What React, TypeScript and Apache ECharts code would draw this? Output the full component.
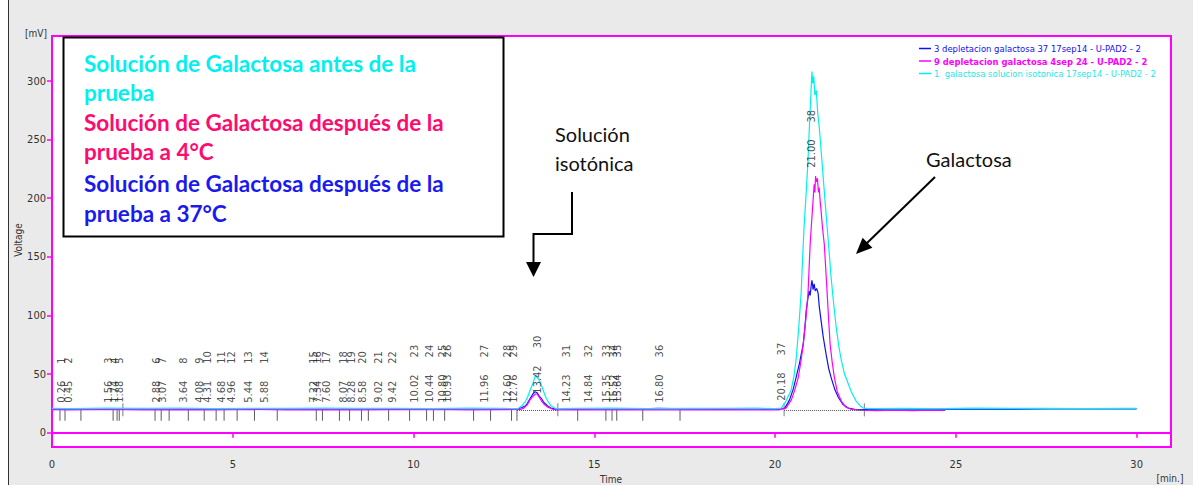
import React, { useEffect, useRef } from "react";
import * as echarts from "echarts";

// ---------- data ----------
const seriesNames = [
  "3 depletacion galactosa 37 17sep14 - U-PAD2 - 2",
  "9 depletacion galactosa 4sep 24 - U-PAD2 - 2",
  "1  galactosa solucion isotonica 17sep14 - U-PAD2 - 2",
];

const blueTrace: [number, number][] = [
  [0, 20.3], [0.5, 20.1], [1.5, 20.5], [2.5, 20.2], [3.5, 20.4], [4.5, 20.1], [5.5, 20.5],
  [6.5, 20.2], [7.5, 20.6], [8.5, 20.3], [9.5, 20.2], [10.5, 20.5], [11.5, 20.3], [12.5, 20.4],
  [12.9, 20.5], [13.0, 21.5], [13.1, 23], [13.15, 25], [13.22, 29], [13.3, 33], [13.36, 35],
  [13.42, 34], [13.48, 31], [13.54, 29], [13.6, 26], [13.7, 23], [13.8, 21], [13.9, 20.4],
  [14.2, 20.3], [15, 20.5], [16, 20.2], [16.8, 20.8], [17.5, 20.3], [18.5, 20.4], [19.5, 20.2],
  [20.1, 20], [20.27, 21], [20.4, 28], [20.5, 37], [20.58, 47], [20.68, 60], [20.78, 76],
  [20.83, 92], [20.86, 104], [20.9, 113], [20.94, 121], [20.97, 117], [21.0, 126], [21.02, 130],
  [21.05, 122], [21.08, 127], [21.11, 121], [21.15, 123], [21.19, 119], [21.22, 108], [21.27, 96],
  [21.33, 82], [21.41, 67], [21.48, 55], [21.55, 47], [21.65, 37], [21.75, 30], [21.88, 24],
  [22.02, 21], [22.2, 20], [22.5, 19.8], [23.5, 20.2], [24.5, 20.0], [25.5, 20.3], [26.5, 20.1],
  [27.5, 20.4], [28.5, 20.2], [29.5, 20.3], [30, 20.2],
];

const magentaTrace: [number, number][] = [
  [0, 19.6], [0.5, 19.4], [1.5, 19.8], [2.5, 19.5], [3.5, 19.7], [4.5, 19.4], [5.5, 19.8],
  [6.5, 19.5], [7.5, 19.7], [8.5, 19.4], [9.5, 19.6], [10.5, 19.8], [11.5, 19.5], [12.5, 19.7],
  [12.95, 19.8], [13.05, 21], [13.15, 24], [13.22, 28], [13.3, 31], [13.37, 33], [13.42, 33],
  [13.48, 30], [13.54, 27], [13.62, 24], [13.7, 22], [13.85, 20], [13.95, 19.5],
  [14.5, 19.6], [15.5, 19.4], [16.5, 19.7], [17.5, 19.5], [18.5, 19.7], [19.5, 19.4],
  [20.1, 19.5], [20.3, 21], [20.45, 28], [20.55, 37], [20.64, 47], [20.72, 62], [20.78, 76],
  [20.85, 97], [20.91, 119], [20.94, 140], [20.97, 161], [21.01, 180], [21.05, 198], [21.08, 212],
  [21.1, 205], [21.12, 219], [21.14, 214], [21.17, 217], [21.2, 205], [21.22, 209], [21.25, 196],
  [21.27, 190], [21.31, 175], [21.36, 161], [21.4, 140], [21.44, 119], [21.48, 97], [21.52, 76],
  [21.58, 60], [21.64, 47], [21.72, 35], [21.83, 27], [21.95, 22], [22.1, 20], [22.3, 19.2],
  [22.8, 18.9], [23.3, 19.3], [23.8, 18.8], [24.3, 19.2], [24.7, 19.0],
];

const cyanTrace: [number, number][] = [
  [0, 20.8], [0.5, 20.6], [1.5, 20.9], [2.5, 20.7], [3.5, 20.9], [4.5, 20.6], [5.5, 20.8],
  [6.5, 20.7], [7.5, 21.0], [8.5, 20.7], [9.5, 20.8], [10.5, 20.6], [11.5, 20.9], [12.5, 20.7],
  [12.8, 20.6], [12.9, 20.8], [13.0, 23], [13.1, 27], [13.15, 30], [13.22, 36], [13.3, 42],
  [13.35, 47], [13.38, 49], [13.42, 47], [13.47, 45], [13.52, 42], [13.6, 35], [13.66, 30],
  [13.73, 26], [13.8, 23], [13.9, 21], [13.99, 20.5], [14.5, 20.7], [15.5, 20.9], [16.5, 20.6],
  [17.5, 20.8], [18.5, 20.7], [19.5, 20.9], [20.0, 20.6], [20.17, 21], [20.3, 27], [20.44, 36],
  [20.52, 48], [20.58, 62], [20.65, 88], [20.72, 119], [20.76, 148], [20.8, 175], [20.86, 205],
  [20.91, 232], [20.94, 255], [20.97, 275], [21.0, 296], [21.02, 308], [21.04, 298], [21.07, 304],
  [21.1, 288], [21.14, 292], [21.18, 272], [21.22, 261], [21.27, 242], [21.33, 218], [21.38, 198],
  [21.44, 175], [21.5, 152], [21.55, 132], [21.62, 110], [21.69, 90], [21.76, 74], [21.83, 62],
  [21.92, 50], [22.02, 42], [22.12, 34], [22.24, 27], [22.35, 23], [22.44, 21], [22.6, 20.6],
  [23.5, 20.8], [24.5, 20.6], [25.5, 20.9], [26.5, 20.7], [27.5, 20.8], [28.5, 20.6], [29.5, 20.8],
  [30, 20.7],
];

const peakNumbers = [
  1, 2, 3, 4, 5, 6, 7, 8, 9, 10, 11, 12, 13, 14, 15, 16, 17, 18, 19, 20,
  21, 22, 23, 24, 25, 26, 27, 28, 29, 30, 31, 32, 33, 34, 35, 36, 37, 38,
];
const peakTimes = [
  0.26, 0.45, 1.56, 1.74, 1.88, 2.88, 3.07, 3.64, 4.08, 4.31, 4.68, 4.96, 5.44, 5.88, 7.22, 7.34,
  7.6, 8.07, 8.28, 8.58, 9.02, 9.42, 10.02, 10.44, 10.8, 10.93, 11.96, 12.6, 12.76, 13.42, 14.23,
  14.84, 15.35, 15.52, 15.64, 16.8, 20.18, 21.0,
];
// level (mV) where each peak's label starts
const peakLabelLevels = [
  25.6, 25.6, 25.6, 25.6, 25.6, 25.6, 25.6, 25.6, 25.6, 25.6, 25.6, 25.6, 25.6, 25.6, 25.6, 25.6,
  25.6, 25.6, 25.6, 25.6, 25.6, 25.6, 25.6, 25.6, 25.6, 25.6, 25.6, 25.6, 25.6, 33.3, 25.6,
  25.6, 25.6, 25.6, 25.6, 25.6, 27.3, 226,
];

const integrationMarks = [
  0.22, 0.36, 0.8, 1.69, 1.8, 1.86, 2.85, 3.02, 3.24, 3.77, 4.21, 4.54, 4.76, 5.12, 5.6, 6.23,
  7.31, 7.48, 7.95, 8.23, 8.56, 8.75, 9.31, 9.89, 10.36, 10.55, 10.86, 11.66, 12.13, 12.71, 12.86,
  14.54, 15.32, 15.49, 15.62, 16.34, 17.37,
];
const peakBounds = [1.96, 13.99, 20.25, 22.47];
const baselineLevel = 19.5;
const baselineSegments: [number, number][] = [
  [12.86, 13.99],
  [20.25, 22.47],
];

const xTicks = [0, 5, 10, 15, 20, 25, 30];
const yTicks = [0, 50, 100, 150, 200, 250, 300];

const BLUE = "#1010f0";
const MAGENTA = "#ff00ff";
const CYAN = "#00f0f0";
const AXIS_FONT = "'DejaVu Sans Condensed', 'Liberation Sans', sans-serif";
const NOTE_FONT = "Lato, 'Open Sans', sans-serif";

export default function App() {
  const ref = useRef<HTMLDivElement>(null);

  useEffect(() => {
    if (!ref.current) return;
    const chart = echarts.init(ref.current, undefined, { renderer: "svg" });

    const noteLines = [
      { text: "Solución de Galactosa antes de la", color: CYAN, y: 63 },
      { text: "prueba", color: CYAN, y: 92 },
      { text: "Solución de Galactosa después de la", color: "#ff0a6e", y: 122 },
      { text: "prueba a 4°C", color: "#ff0a6e", y: 151 },
      { text: "Solución de Galactosa después de la", color: "#1a1af0", y: 183 },
      { text: "prueba a 37°C", color: "#1a1af0", y: 213 },
    ];

    const option: any = {
      animation: false,
      backgroundColor: "#eaeaea",
      textStyle: { fontFamily: AXIS_FONT },
      grid: {
        left: 52,
        right: 22,
        top: 36,
        bottom: 38,
        show: true,
        backgroundColor: "#ffffff",
        borderColor: MAGENTA,
        borderWidth: 2,
      },
      legend: {
        orient: "vertical",
        left: 914,
        top: 39,
        itemWidth: 12,
        itemHeight: 1.5,
        itemGap: 3.5,
        icon: "rect",
        textStyle: { fontSize: 9.4, fontFamily: AXIS_FONT, padding: [0, 0, 0, -2] },
        data: [
          { name: seriesNames[0], textStyle: { color: BLUE } },
          { name: seriesNames[1], textStyle: { color: MAGENTA, fontWeight: "bold" } },
          { name: seriesNames[2], textStyle: { color: "#22e8e8" } },
        ],
      },
      xAxis: {
        type: "value",
        min: 0,
        max: 30.95,
        splitLine: { show: false },
        axisLine: { lineStyle: { color: MAGENTA, width: 2 } },
        axisTick: { show: true, length: 5, lineStyle: { color: MAGENTA, width: 1.5 }, customValues: xTicks },
        axisLabel: { color: "#333", fontSize: 11, margin: 12, customValues: xTicks, fontFamily: AXIS_FONT },
      },
      yAxis: {
        type: "value",
        min: -12.2,
        max: 338.4,
        splitLine: { show: false },
        axisLine: { show: true, lineStyle: { color: MAGENTA, width: 2 } },
        axisTick: { show: true, length: 5, lineStyle: { color: MAGENTA, width: 1.5 }, customValues: yTicks },
        axisLabel: { color: "#333", fontSize: 11, margin: 6, customValues: yTicks, fontFamily: AXIS_FONT },
      },
      series: [
        {
          name: seriesNames[0],
          type: "line",
          data: blueTrace,
          showSymbol: false,
          color: BLUE,
          lineStyle: { width: 1.2, color: BLUE },
          z: 3,
          silent: true,
        },
        {
          name: seriesNames[1],
          type: "line",
          data: magentaTrace,
          showSymbol: false,
          color: MAGENTA,
          lineStyle: { width: 1.2, color: MAGENTA },
          z: 3,
          silent: true,
        },
        {
          name: seriesNames[2],
          type: "line",
          data: cyanTrace,
          showSymbol: false,
          color: CYAN,
          lineStyle: { width: 1.2, color: CYAN },
          z: 4,
          silent: true,
        },
        {
          name: "marks",
          type: "scatter",
          data: integrationMarks.map((t) => [t, baselineLevel]),
          symbol: "rect",
          symbolSize: [1, 11],
          symbolOffset: [0, 5.5],
          itemStyle: { color: "#333" },
          silent: true,
          z: 2,
        },
        {
          name: "bounds",
          type: "scatter",
          data: peakBounds.map((t) => [t, baselineLevel]),
          symbol: "rect",
          symbolSize: [1.2, 13],
          itemStyle: { color: "#777" },
          silent: true,
          z: 2,
          markLine: {
            silent: true,
            symbol: ["none", "none"],
            label: { show: false },
            lineStyle: { type: "dotted", color: "#555", width: 1 },
            data: baselineSegments.map(([a, b]) => [
              { coord: [a, baselineLevel] },
              { coord: [b, baselineLevel] },
            ]),
          },
        },
        {
          name: "peakLabels",
          type: "scatter",
          data: peakTimes.map((t, i) => [t, peakLabelLevels[i]]),
          symbolSize: 1,
          itemStyle: { color: "rgba(0,0,0,0)" },
          silent: true,
          z: 6,
          label: {
            show: true,
            position: "inside",
            rotate: 90,
            align: "left",
            verticalAlign: "middle",
            color: "#222",
            fontSize: 11,
            fontFamily: AXIS_FONT,
            formatter: (p: any) =>
              `{t|${peakTimes[p.dataIndex].toFixed(2)}}{g|}{n|${peakNumbers[p.dataIndex]}}`,
            rich: {
              t: { fontSize: 11, color: "#222", fontFamily: AXIS_FONT },
              g: { width: 17 },
              n: { fontSize: 11, color: "#222", fontFamily: AXIS_FONT },
            },
          },
          labelLayout: { hideOverlap: false },
        },
      ],
      graphic: [
        { type: "rect", shape: { x: 0, y: 0, width: 8, height: 485 }, style: { fill: "#ffffff" }, silent: true },
        { type: "line", shape: { x1: 8.5, y1: 0, x2: 8.5, y2: 485 }, style: { stroke: "#333", lineWidth: 1 }, silent: true },
        {
          type: "text",
          x: 36,
          y: 33,
          style: { text: "[mV]", font: `10px ${AXIS_FONT}`, fill: "#333", textAlign: "center", textVerticalAlign: "middle" },
        },
        {
          type: "text",
          x: 18,
          y: 240,
          rotation: Math.PI / 2,
          style: { text: "Voltage", font: `10px ${AXIS_FONT}`, fill: "#333", textAlign: "center", textVerticalAlign: "middle" },
        },
        {
          type: "text",
          x: 1170,
          y: 478,
          style: { text: "[min.]", font: `10px ${AXIS_FONT}`, fill: "#333", textAlign: "center", textVerticalAlign: "middle" },
        },
        {
          type: "text",
          x: 611,
          y: 479,
          style: { text: "Time", font: `10px ${AXIS_FONT}`, fill: "#333", textAlign: "center", textVerticalAlign: "middle" },
        },
        // annotation box
        {
          type: "rect",
          z: 100,
          shape: { x: 63.5, y: 37.5, width: 440, height: 199 },
          style: { fill: "#ffffff", stroke: "#000", lineWidth: 2 },
          silent: true,
        },
        ...noteLines.map((l) => ({
          type: "text",
          z: 101,
          x: 84,
          y: l.y,
          style: {
            text: l.text,
            font: `bold 22.5px ${NOTE_FONT}`,
            fill: l.color,
            textAlign: "left",
            textVerticalAlign: "middle",
          },
        })),
        {
          type: "text",
          z: 101,
          x: 555,
          y: 134,
          style: { text: "Solución", font: `20px ${NOTE_FONT}`, fill: "#111", textAlign: "left", textVerticalAlign: "middle" },
        },
        {
          type: "text",
          z: 101,
          x: 555,
          y: 163,
          style: { text: "isotónica", font: `20px ${NOTE_FONT}`, fill: "#111", textAlign: "left", textVerticalAlign: "middle" },
        },
        {
          type: "text",
          z: 101,
          x: 926,
          y: 159,
          style: { text: "Galactosa", font: `20px ${NOTE_FONT}`, fill: "#111", textAlign: "left", textVerticalAlign: "middle" },
        },
        {
          type: "polyline",
          z: 101,
          shape: { points: [[572, 192], [572, 234], [533.5, 234], [533.5, 264]] },
          style: { stroke: "#000", lineWidth: 2, fill: "none" },
          silent: true,
        },
        {
          type: "polygon",
          z: 101,
          shape: { points: [[526, 262], [541, 262], [533.5, 277]] },
          style: { fill: "#000" },
          silent: true,
        },
        {
          type: "line",
          z: 101,
          shape: { x1: 935, y1: 177, x2: 866, y2: 244 },
          style: { stroke: "#000", lineWidth: 2 },
          silent: true,
        },
        {
          type: "polygon",
          z: 101,
          shape: { points: [[856, 254], [872.4, 247.8], [862.6, 237.8]] },
          style: { fill: "#000" },
          silent: true,
        },
      ],
    };

    chart.setOption(option);
    return () => chart.dispose();
  }, []);

  return (
    <div
      ref={ref}
      style={{ position: "absolute", left: 0, top: 0, width: 1193, height: 485 }}
    />
  );
}
